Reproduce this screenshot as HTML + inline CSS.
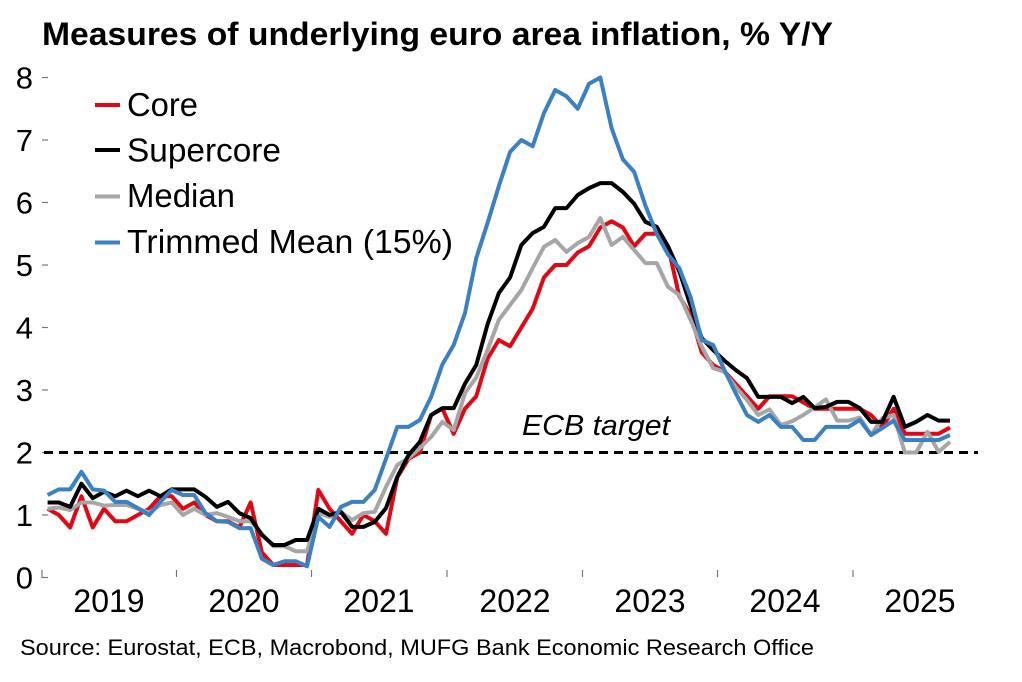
<!DOCTYPE html>
<html><head><meta charset="utf-8">
<style>
html,body{margin:0;padding:0;background:#fff;}
svg{display:block;}
text{font-family:"Liberation Sans",Arial,sans-serif;fill:#000;}
</style></head>
<body>
<svg width="1022" height="682" viewBox="0 0 1022 682" xmlns="http://www.w3.org/2000/svg">
<rect width="1022" height="682" fill="#fff"/>
<text x="42" y="45" font-size="32" font-weight="bold" textLength="791" lengthAdjust="spacingAndGlyphs">Measures of underlying euro area inflation, % Y/Y</text>

<!-- y ticks -->
<g stroke="#777" stroke-width="1.2">
<line x1="42" y1="77.5" x2="48" y2="77.5"/>
<line x1="42" y1="140" x2="48" y2="140"/>
<line x1="42" y1="202.5" x2="48" y2="202.5"/>
<line x1="42" y1="265" x2="48" y2="265"/>
<line x1="42" y1="327.5" x2="48" y2="327.5"/>
<line x1="42" y1="390" x2="48" y2="390"/>
<line x1="42" y1="452.5" x2="48" y2="452.5"/>
<line x1="42" y1="515" x2="48" y2="515"/>
<line x1="42" y1="577.5" x2="48" y2="577.5"/>
<line x1="42" y1="570" x2="42" y2="578"/>
<line x1="176.5" y1="570" x2="176.5" y2="577"/>
<line x1="311.5" y1="570" x2="311.5" y2="577"/>
<line x1="447" y1="570" x2="447" y2="577"/>
<line x1="582.5" y1="570" x2="582.5" y2="577"/>
<line x1="717.5" y1="570" x2="717.5" y2="577"/>
<line x1="853" y1="570" x2="853" y2="577"/>
</g>
<g font-size="31" text-anchor="end">
<text x="33" y="88.5">8</text>
<text x="33" y="151">7</text>
<text x="33" y="213.5">6</text>
<text x="33" y="276">5</text>
<text x="33" y="338.5">4</text>
<text x="33" y="401">3</text>
<text x="33" y="463.5">2</text>
<text x="33" y="526">1</text>
<text x="33" y="588.5">0</text>
</g>
<g font-size="32" text-anchor="middle">
<text x="109" y="612">2019</text>
<text x="244" y="612">2020</text>
<text x="379" y="612">2021</text>
<text x="515" y="612">2022</text>
<text x="650" y="612">2023</text>
<text x="785" y="612">2024</text>
<text x="920" y="612">2025</text>
</g>

<line x1="44" y1="452.5" x2="978" y2="452.5" stroke="#000" stroke-width="3" stroke-dasharray="9 6"/>
<text x="522" y="435" font-size="29" font-style="italic" textLength="148" lengthAdjust="spacingAndGlyphs">ECB target</text>

<g transform="translate(47.6,577.5) scale(11.28,-62.5)" fill="none" stroke-linejoin="round" stroke-linecap="butt">
<polyline vector-effect="non-scaling-stroke" stroke="#e30613" stroke-width="4" points="0,1.1 1,1.0 2,0.8 3,1.3 4,0.8 5,1.1 6,0.9 7,0.9 8,1.0 9,1.1 10,1.3 11,1.3 12,1.1 13,1.2 14,1.0 15,0.9 16,0.9 17,0.8 18,1.2 19,0.4 20,0.2 21,0.2 22,0.2 23,0.2 24,1.4 25,1.1 26,0.9 27,0.7 28,1.0 29,0.9 30,0.7 31,1.6 32,1.9 33,2.0 34,2.6 35,2.7 36,2.3 37,2.7 38,2.9 39,3.5 40,3.8 41,3.7 42,4.0 43,4.3 44,4.8 45,5.0 46,5.0 47,5.2 48,5.3 49,5.6 50,5.7 51,5.6 52,5.3 53,5.5 54,5.5 55,5.3 56,4.5 57,4.2 58,3.6 59,3.4 60,3.3 61,3.1 62,2.9 63,2.7 64,2.9 65,2.9 66,2.9 67,2.8 68,2.7 69,2.7 70,2.7 71,2.7 72,2.7 73,2.6 74,2.4 75,2.7 76,2.3 77,2.3 78,2.3 79,2.3 80,2.4"/>
<polyline vector-effect="non-scaling-stroke" stroke="#a6a6a6" stroke-width="4" points="0,1.1 1,1.12 2,1.08 3,1.2 4,1.2 5,1.15 6,1.16 7,1.16 8,1.1 9,1.04 10,1.16 11,1.2 12,1.0 13,1.1 14,1.0 15,1.03 16,0.97 17,0.9 18,0.9 19,0.7 20,0.5 21,0.5 22,0.42 23,0.42 24,1.03 25,0.97 26,1.05 27,0.92 28,1.03 29,1.05 30,1.45 31,1.8 32,1.91 33,2.07 34,2.25 35,2.49 36,2.36 37,2.95 38,3.2 39,3.64 40,4.12 41,4.36 42,4.6 43,4.95 44,5.29 45,5.4 46,5.21 47,5.35 48,5.45 49,5.75 50,5.32 51,5.45 52,5.24 53,5.03 54,5.03 55,4.65 56,4.52 57,4.12 58,3.69 59,3.35 60,3.29 61,3.05 62,2.84 63,2.6 64,2.69 65,2.44 66,2.5 67,2.6 68,2.72 69,2.85 70,2.51 71,2.51 72,2.56 73,2.28 74,2.55 75,2.6 76,2.0 77,2.0 78,2.33 79,2.01 80,2.17"/>
<polyline vector-effect="non-scaling-stroke" stroke="#000" stroke-width="4" points="0,1.2 1,1.2 2,1.13 3,1.5 4,1.27 5,1.37 6,1.3 7,1.39 8,1.3 9,1.39 10,1.3 11,1.41 12,1.41 13,1.41 14,1.29 15,1.13 16,1.21 17,1.03 18,0.95 19,0.68 20,0.52 21,0.52 22,0.6 23,0.6 24,1.1 25,1.0 26,1.05 27,0.81 28,0.81 29,0.89 30,1.11 31,1.61 32,1.96 33,2.17 34,2.6 35,2.71 36,2.71 37,3.1 38,3.4 39,4.05 40,4.55 41,4.8 42,5.32 43,5.51 44,5.61 45,5.91 46,5.91 47,6.12 48,6.23 49,6.31 50,6.31 51,6.17 52,5.98 53,5.69 54,5.61 55,5.3 56,4.9 57,4.35 58,3.83 59,3.64 60,3.47 61,3.32 62,3.19 63,2.89 64,2.89 65,2.89 66,2.79 67,2.89 68,2.71 69,2.73 70,2.81 71,2.81 72,2.71 73,2.49 74,2.49 75,2.89 76,2.41 77,2.49 78,2.6 79,2.51 80,2.51"/>
<polyline vector-effect="non-scaling-stroke" stroke="#3a80c3" stroke-width="4" points="0,1.32 1,1.41 2,1.41 3,1.69 4,1.41 5,1.39 6,1.21 7,1.21 8,1.11 9,1.0 10,1.21 11,1.4 12,1.32 13,1.32 14,1.03 15,0.9 16,0.89 17,0.79 18,0.79 19,0.3 20,0.2 21,0.26 22,0.26 23,0.18 24,0.97 25,0.81 26,1.13 27,1.21 28,1.21 29,1.4 30,1.9 31,2.41 32,2.41 33,2.52 34,2.89 35,3.41 36,3.72 37,4.23 38,5.11 39,5.67 40,6.26 41,6.81 42,7.0 43,6.9 44,7.43 45,7.8 46,7.7 47,7.5 48,7.9 49,8.0 50,7.19 51,6.69 52,6.49 53,5.95 54,5.5 55,5.17 56,4.95 57,4.49 58,3.8 59,3.72 60,3.32 61,2.95 62,2.6 63,2.49 64,2.6 65,2.41 66,2.41 67,2.2 68,2.2 69,2.41 70,2.41 71,2.41 72,2.52 73,2.28 74,2.39 75,2.51 76,2.2 77,2.2 78,2.2 79,2.2 80,2.28"/>
</g>

<!-- legend -->
<g stroke-width="4">
<line x1="95" y1="105" x2="120" y2="105" stroke="#e30613"/>
<line x1="95" y1="150" x2="120" y2="150" stroke="#000"/>
<line x1="95" y1="196.5" x2="120" y2="196.5" stroke="#a6a6a6"/>
<line x1="95" y1="242.5" x2="120" y2="242.5" stroke="#3a80c3"/>
</g>
<g font-size="33">
<text x="127" y="116" textLength="71" lengthAdjust="spacingAndGlyphs">Core</text>
<text x="127" y="161.5" textLength="154" lengthAdjust="spacingAndGlyphs">Supercore</text>
<text x="127" y="207" textLength="108" lengthAdjust="spacingAndGlyphs">Median</text>
<text x="127" y="253" textLength="326" lengthAdjust="spacingAndGlyphs">Trimmed Mean (15%)</text>
</g>

<text x="20" y="655" font-size="22.5" textLength="794" lengthAdjust="spacingAndGlyphs">Source: Eurostat, ECB, Macrobond, MUFG Bank Economic Research Office</text>
</svg>
</body></html>
